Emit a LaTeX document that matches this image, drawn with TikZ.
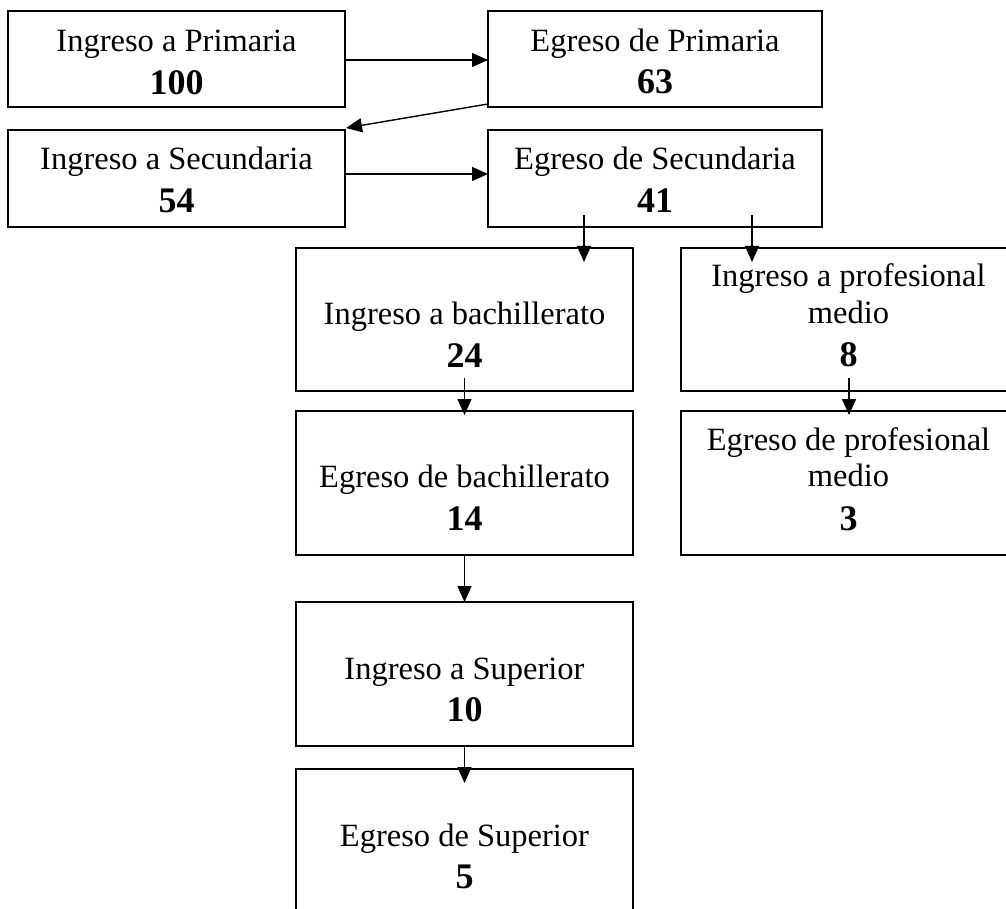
\documentclass[tikz,border=0pt]{standalone}
\usepackage{fontspec}
\setmainfont{Liberation Serif}
\usetikzlibrary{arrows.meta,calc}
\begin{document}
\begin{tikzpicture}[x=1pt,y=-1pt,
  box/.style={draw,line width=1.4pt,inner sep=0pt,outer sep=0pt,anchor=north west},
  lbl/.style={font=\fontsize{32.5}{38}\selectfont,inner sep=0pt,anchor=base},
  num/.style={font=\fontsize{36}{42}\selectfont\bfseries,inner sep=0pt,anchor=base},
  arr/.style={line width=1.4pt,-{Triangle[length=16pt,width=14pt]}}]
\fill[white,use as bounding box] (0,0) rectangle (1006,909);
\clip (0,0) rectangle (1006,909);
% boxes
\node[box,minimum width=337pt,minimum height=96pt] (b1) at (8,11) {};
\node[box,minimum width=334pt,minimum height=96pt] (b2) at (488,11) {};
\node[box,minimum width=337pt,minimum height=97pt] (b3) at (8,130) {};
\node[box,minimum width=334pt,minimum height=97pt] (b4) at (488,130) {};
\node[box,minimum width=337pt,minimum height=143pt] (b5) at (296,248) {};
\node[box,minimum width=337pt,minimum height=143pt] (b6) at (681,248) {};
\node[box,minimum width=337pt,minimum height=144pt] (b7) at (296,411) {};
\node[box,minimum width=337pt,minimum height=144pt] (b8) at (681,411) {};
\node[box,minimum width=337pt,minimum height=144pt] (b9) at (296,602) {};
\node[box,minimum width=337pt,minimum height=200pt] (b10) at (296,769) {};
% texts
\node[lbl] (t1a) at (176.5,52) {Ingreso a Primaria};
\node[num] (t1b) at (176.5,94.3) {100};
\node[lbl] (t2a) at (655,52) {Egreso de Primaria};
\node[num] (t2b) at (655,94) {63};
\node[lbl] (t3a) at (176.5,170) {Ingreso a Secundaria};
\node[num] (t3b) at (176.5,212.7) {54};
\node[lbl] (t4a) at (655,170) {Egreso de Secundaria};
\node[num] (t4b) at (655,213) {41};
\node[lbl] (t5a) at (464.5,324) {Ingreso a bachillerato};
\node[num] (t5b) at (464.5,367) {24};
\node[lbl] (t6a) at (848.5,287) {Ingreso a profesional};
\node[lbl] (t6b) at (848.5,323) {medio};
\node[num] (t6c) at (848.5,366) {8};
\node[lbl] (t7a) at (464.5,487.3) {Egreso de bachillerato};
\node[num] (t7b) at (464.5,530) {14};
\node[lbl] (t8a) at (848.5,450) {Egreso de profesional};
\node[lbl] (t8b) at (848.5,486.7) {medio};
\node[num] (t8c) at (848.5,530) {3};
\node[lbl] (t9a) at (464.5,679) {Ingreso a Superior};
\node[num] (t9b) at (464.5,721) {10};
\node[lbl] (t10a) at (464.5,846.7) {Egreso de Superior};
\node[num] (t10b) at (464.5,888) {5};
% connectors
\draw[arr] ($(b1.north east)+(0,49)$) -- ($(b2.north west)+(0,49)$);
\draw[arr] ($(b2.south west)+(0,-3)$) -- ($(b3.north east)+(1,-2)$);
\draw[arr] ($(b3.north east)+(0,44)$) -- ($(b4.north west)+(0,44)$);
\draw[arr] ($(b4.south west)+(96,-12)$) -- ($(b5.north west)+(288,14)$);
\draw[arr] ($(b4.south west)+(264,-12)$) -- ($(b6.north west)+(71,14)$);
\draw[arr] ($(b5.south)+(0,-13)$) -- ($(b7.north)+(0,4)$);
\draw[arr] ($(b6.south west)+(168,-13)$) -- ($(b8.north west)+(168,4)$);
\draw[arr] (b7.south) -- (b9.north);
\draw[arr] (b9.south) -- ($(b10.north)+(0,14)$);
\end{tikzpicture}
\end{document}
